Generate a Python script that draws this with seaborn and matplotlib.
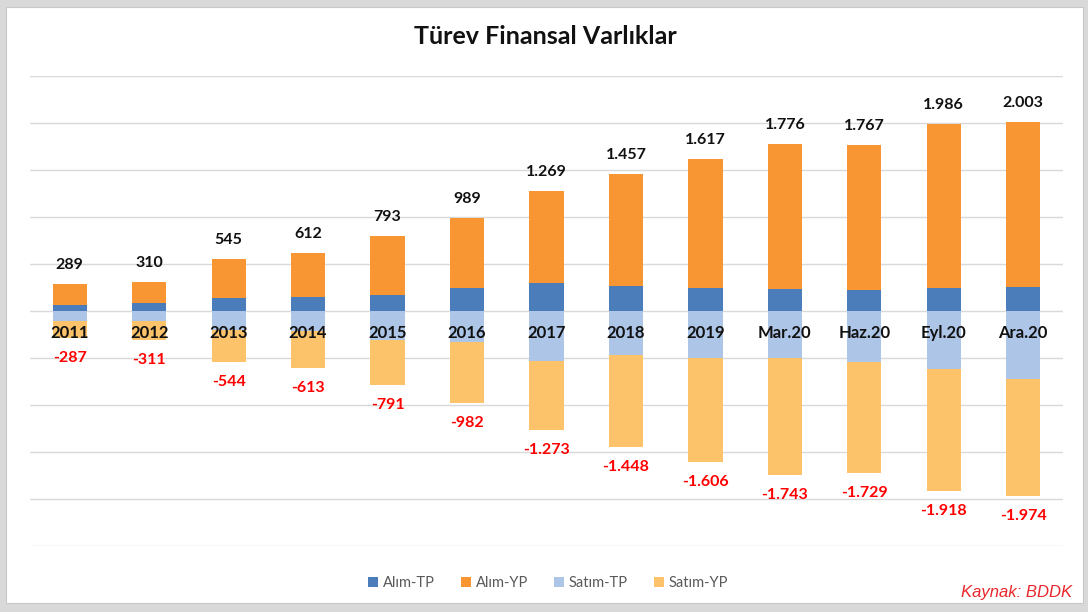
import numpy as np
import matplotlib
matplotlib.use("Agg")
import matplotlib.pyplot as plt
from matplotlib.patches import Patch, Rectangle
import seaborn as sns

categories = ["2011", "2012", "2013", "2014", "2015", "2016", "2017", "2018", "2019",
              "Mar.20", "Haz.20", "Eyl.20", "Ara.20"]
alim_total = [289, 310, 545, 612, 793, 989, 1269, 1457, 1617, 1776, 1767, 1986, 2003]
alim_tp = [64, 82, 135, 149, 167, 245, 291, 266, 245, 231, 216, 238, 255]
satim_total = [287, 311, 544, 613, 791, 982, 1273, 1448, 1606, 1743, 1729, 1918, 1974]
satim_tp = [106, 106, 210, 220, 312, 330, 532, 471, 507, 505, 543, 623, 730]
pos_labels = ["289", "310", "545", "612", "793", "989", "1.269", "1.457", "1.617",
              "1.776", "1.767", "1.986", "2.003"]
neg_labels = ["-287", "-311", "-544", "-613", "-791", "-982", "-1.273", "-1.448",
              "-1.606", "-1.743", "-1.729", "-1.918", "-1.974"]
series_names = ["Alım-TP", "Alım-YP", "Satım-TP", "Satım-YP"]

sns.set_theme(style="white")
plt.rcParams["font.family"] = ["Lato", "DejaVu Sans"]

colors = ["#4A7DBA", "#F79633", "#ADC6E8", "#FCC36A"]

fig = plt.figure(figsize=(10.88, 6.12), dpi=100)
fig.patch.set_facecolor("#D9D9D9")
fig.patches.append(Rectangle((6 / 1088, 1 - 603 / 612), (1083 - 6) / 1088, (603 - 7) / 612,
                             transform=fig.transFigure, facecolor="white",
                             edgecolor="#C8C8C8", lw=0.8, zorder=-10))

ax = fig.add_axes([30 / 1088, (612 - 545.7) / 612, (1063 - 30) / 1088, (545.7 - 75.7) / 612])
ax.set_facecolor("none")
ax.set_zorder(5)

a_tp = np.array(alim_tp)
a_yp = np.array(alim_total) - a_tp
s_tp = -np.array(satim_tp)
s_yp = -(np.array(satim_total) - np.array(satim_tp))

w = 0.43
common = dict(saturation=1, width=w, ax=ax, zorder=2, edgecolor="none", linewidth=0)
sns.barplot(x=categories, y=a_tp, color=colors[0], **common)
sns.barplot(x=categories, y=a_yp, bottom=a_tp, color=colors[1], **common)
sns.barplot(x=categories, y=s_tp, color=colors[2], **common)
sns.barplot(x=categories, y=s_yp, bottom=s_tp, color=colors[3], **common)

ax.set_ylim(-2500, 2500)
ax.set_xlim(-0.5, len(categories) - 0.5)
ax.set_yticks(np.arange(-2500, 2501, 500))
ax.yaxis.grid(True, color="#D9D9D9", lw=1.0, zorder=0)
ax.set_axisbelow(True)
ax.tick_params(left=False, bottom=False, labelleft=False, labelbottom=False)
for s in ax.spines.values():
    s.set_visible(False)
ax.set_xlabel("")
ax.set_ylabel("")

for i, cat in enumerate(categories):
    ax.annotate(pos_labels[i], xy=(i, alim_total[i]), xytext=(0, 12), textcoords="offset pixels",
                ha="center", va="bottom", fontsize=11.5, fontweight="bold", color="#111111", zorder=5)
    ax.annotate(neg_labels[i], xy=(i, -satim_total[i]), xytext=(0, -13), textcoords="offset pixels",
                ha="center", va="top", fontsize=11.5, fontweight="bold", color="#FF0000", zorder=5)
    ax.annotate(cat, xy=(i, 0), xytext=(0, -22), textcoords="offset pixels",
                ha="center", va="center", fontsize=12, fontweight="bold", color="#111111", zorder=5)

fig.text(545 / 1088, 1 - 36 / 612, "Türev Finansal Varlıklar", ha="center", va="center",
         fontsize=18, fontweight="bold", color="#111111")

handles = [Patch(facecolor=c, edgecolor="none") for c in colors]
fig.legend(handles, series_names, loc="center", bbox_to_anchor=(548 / 1088, 1 - 583 / 612),
           ncol=4, frameon=False, fontsize=10.5, handlelength=0.7, handleheight=0.7,
           handletextpad=0.3, columnspacing=1.8, labelcolor="#595959")

fig.text(1072 / 1088, 1 - 592 / 612, "Kaynak: BDDK", ha="right", va="center",
         fontsize=12, style="italic", color="#E8262B", family=["Liberation Sans", "DejaVu Sans"])

fig.savefig("out.png", dpi=100, facecolor=fig.get_facecolor())
